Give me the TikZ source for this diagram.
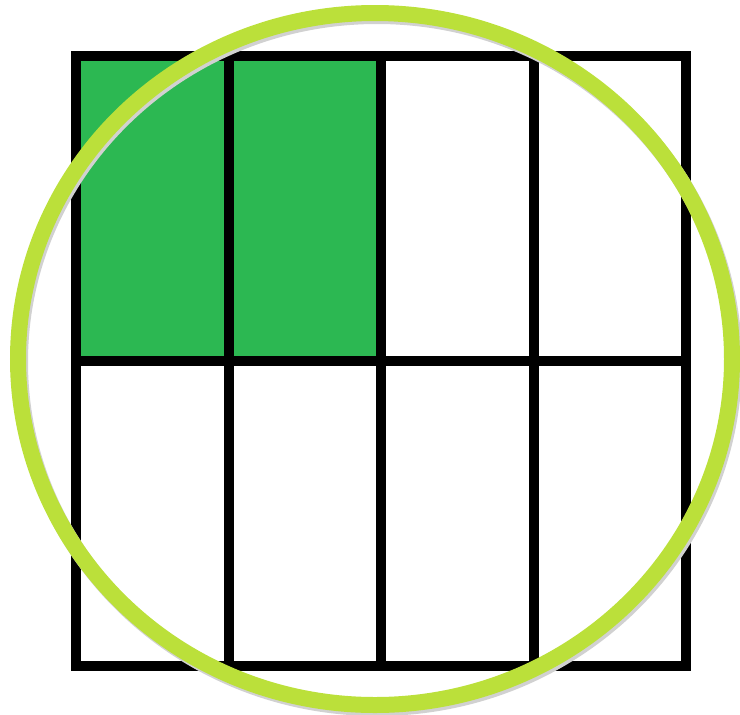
\documentclass[tikz,border=0pt]{standalone}
\usepackage{xcolor}
\usepackage{tikz}
\definecolor{cellgreen}{RGB}{44,184,82}
\definecolor{ringgreen}{RGB}{187,224,58}

\begin{document}
\begin{tikzpicture}[x=0.5pt, y=-0.5pt]

    \useasboundingbox (0,0) rectangle (740,714);

    % =================================================================
    % GRID: 4 x 2 CELLS, TWO TOP-LEFT CELLS SHADED
    % =================================================================
    % Corners of the grid
    \coordinate (TL) at (76,56);
    \coordinate (BR) at (686,665.5);

    % Shaded cells
    \fill[cellgreen] (TL) rectangle (381,361);

    % Outer frame and inner lines
    \draw[line width=5pt] (TL) rectangle (BR);
    \draw[line width=5pt] (228.5,56) -- (228.5,665.5);
    \draw[line width=5pt] (381,56) -- (381,665.5);
    \draw[line width=5pt] (533.5,56) -- (533.5,665.5);
    \draw[line width=5pt] (76,361) -- (686,361);

    % =================================================================
    % RING OVER THE GRID
    % =================================================================
    % Soft shadow under the ring
    \draw[black!18, line width=8pt] (377,362) ellipse [x radius=357, y radius=346];
    % Ring
    \draw[ringgreen, line width=8pt] (375,359) ellipse [x radius=357, y radius=346];

\end{tikzpicture}
\end{document}
